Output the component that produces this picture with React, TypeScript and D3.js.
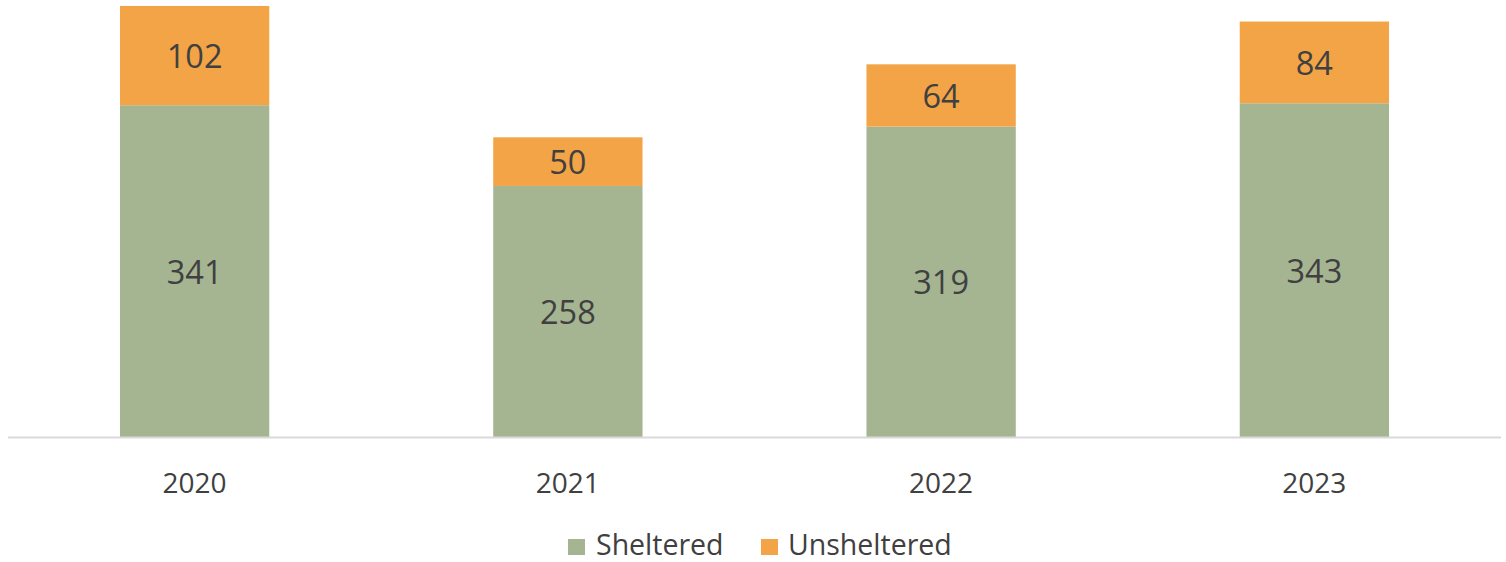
import React from "react";
import * as d3 from "d3";

const years = ["2020", "2021", "2022", "2023"];
const sheltered = [341, 258, 319, 343];
const unsheltered = [102, 50, 64, 84];
const seriesNames = ["Sheltered", "Unsheltered"];
const seriesColors = ["#A5B592", "#F2A446"];

const W = 1506;
const H = 562;
const FONT = "'Open Sans', 'Liberation Sans', sans-serif";
const TEXT = "#404040";

export default function App() {
  const x = d3.scaleBand<string>().domain(years).range([8, 1501]).paddingInner(0.6).paddingOuter(0.3);
  const y = d3.scaleLinear().domain([0, 450]).range([437, 437 - 450 * 0.973]);

  const rows = years.map((yr, i) => ({ year: yr, Sheltered: sheltered[i], Unsheltered: unsheltered[i] }));
  const stack = d3.stack<any>().keys(seriesNames)(rows);

  return (
    <svg width={W} height={H} style={{ position: "absolute", left: 0, top: 0, background: "#fff" }} fontFamily={FONT}>
      {stack.map((layer, si) => (
        <g key={layer.key}>
          {layer.map((d, i) => {
            const x0 = x(years[i])!;
            const top = y(d[1]);
            const bot = y(d[0]);
            return (
              <g key={i}>
                <rect x={x0} y={top} width={x.bandwidth()} height={bot - top} fill={seriesColors[si]} />
                <text
                  x={x0 + x.bandwidth() / 2}
                  y={(top + bot) / 2}
                  textAnchor="middle"
                  dominantBaseline="central"
                  fontSize={32.5}
                  fill={TEXT}
                >
                  {d[1] - d[0]}
                </text>
              </g>
            );
          })}
        </g>
      ))}
      <line x1={8} x2={1501} y1={437.5} y2={437.5} stroke="#d9d9d9" strokeWidth={2} />
      {years.map((yr) => (
        <text
          key={yr}
          x={x(yr)! + x.bandwidth() / 2}
          y={482}
          textAnchor="middle"
          dominantBaseline="central"
          fontSize={28}
          fill={TEXT}
        >
          {yr}
        </text>
      ))}
      <g>
        <rect x={568} y={539} width={17} height={16} fill={seriesColors[0]} />
        <text x={596} y={555} fontSize={28.5} fill={TEXT}>
          {seriesNames[0]}
        </text>
        <rect x={761} y={539} width={17} height={16} fill={seriesColors[1]} />
        <text x={788} y={555} fontSize={28.5} fill={TEXT}>
          {seriesNames[1]}
        </text>
      </g>
    </svg>
  );
}
